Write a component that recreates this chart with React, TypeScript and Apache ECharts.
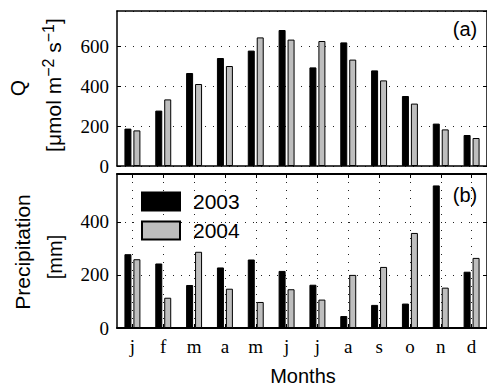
import React, { useEffect, useRef } from "react";
import * as echarts from "echarts";

const months = ["j", "f", "m", "a", "m", "j", "j", "a", "s", "o", "n", "d"];
const q2003 = [187, 277, 465, 540, 577, 680, 493, 618, 478, 350, 212, 155];
const q2004 = [178, 333, 410, 500, 643, 632, 625, 532, 428, 312, 183, 140];
const p2003 = [278, 243, 162, 228, 258, 215, 163, 45, 87, 92, 537, 212];
const p2004 = [259, 114, 287, 148, 98, 146, 107, 200, 230, 358, 152, 264];
const seriesNames = ["2003", "2004"];

const SANS = "Liberation Sans";
const SERIF = "Liberation Serif";
const GRAY = "#bebebe";

export default function App() {
  const ref = useRef<HTMLDivElement>(null);
  useEffect(() => {
    if (!ref.current) return;
    const chart = echarts.init(ref.current, undefined, { renderer: "svg" });
    const frame = { show: true, lineStyle: { color: "#000", width: 1.5 } };
    const dotted = { show: true, lineStyle: { color: "#222", width: 1, type: [1, 7] as any } };
    const catAxis = (grid: number, pos: string, extra: any = {}) => ({
      type: "category",
      gridIndex: grid,
      position: pos,
      data: months,
      boundaryGap: true,
      axisLine: { ...frame, onZero: false },
      axisTick: { show: false },
      axisLabel: { show: false },
      splitLine: { show: false },
      ...extra,
    });
    const valAxis = (grid: number, pos: string, max: number, labels: boolean, split: boolean) => ({
      type: "value",
      gridIndex: grid,
      position: pos,
      min: 0,
      max,
      interval: 200,
      axisLine: frame,
      axisTick: { show: true, inside: true, length: 4, lineStyle: { color: "#000", width: 1 } },
      axisLabel: labels
        ? { show: true, showMaxLabel: false, margin: 8, fontFamily: SERIF, fontSize: 19, color: "#000" }
        : { show: false },
      splitLine: split ? dotted : { show: false },
    });
    const bar = (name: string, data: number[], xi: number, yi: number, color: string) => ({
      type: "bar",
      name,
      data,
      xAxisIndex: xi,
      yAxisIndex: yi,
      barWidth: 7,
      barGap: "28%",
      itemStyle: { color, borderColor: "#000", borderWidth: 1 },
    });
    chart.setOption({
      animation: false,
      backgroundColor: "#fff",
      grid: [
        { left: 117, top: 11, width: 372, height: 155 },
        { left: 117, top: 174, width: 372, height: 154 },
      ],
      xAxis: [
        catAxis(0, "bottom"),
        catAxis(0, "top"),
        catAxis(1, "bottom", {
          axisLine: { show: true, onZero: false, lineStyle: { color: "#000", width: 2 } },
          axisLabel: { show: true, margin: 9, fontFamily: SERIF, fontSize: 19, color: "#000" },
          splitLine: { ...dotted, alignWithLabel: true },
          axisTick: { show: true, inside: true, alignWithLabel: true, length: 4, lineStyle: { color: "#000" } },
        }),
        catAxis(1, "top", {
          axisLine: { show: true, onZero: false, lineStyle: { color: "#000", width: 2 } },
          axisTick: { show: true, inside: true, alignWithLabel: true, length: 4, lineStyle: { color: "#000" } },
        }),
      ],
      yAxis: [
        valAxis(0, "left", 775, true, true),
        valAxis(0, "right", 775, false, false),
        valAxis(1, "left", 580, true, true),
        valAxis(1, "right", 580, false, false),
      ],
      legend: {
        data: seriesNames,
        orient: "vertical",
        left: 141,
        top: 191,
        itemWidth: 38,
        itemHeight: 18,
        itemGap: 8,
        icon: "rect",
        padding: 0,
        textStyle: { fontFamily: SANS, fontSize: 21, color: "#000", padding: [0, 0, 0, 8] },
      },
      series: [
        bar(seriesNames[0], q2003, 0, 0, "#000"),
        bar(seriesNames[1], q2004, 0, 0, GRAY),
        bar(seriesNames[0], p2003, 2, 2, "#000"),
        bar(seriesNames[1], p2004, 2, 2, GRAY),
      ],
      graphic: [
        { type: "text", x: 17, y: 88, rotation: Math.PI / 2, style: { text: "Q", font: `21px "${SANS}"`, fill: "#000", align: "center", verticalAlign: "middle" } },
        {
          type: "text", x: 52, y: 85, rotation: Math.PI / 2,
          style: {
            text: "{a|[μmol m}{s|−2}{a| s}{s|−1}{a|]}",
            fill: "#000", align: "center", verticalAlign: "middle",
            rich: {
              a: { fontFamily: SANS, fontSize: 21, fill: "#000", lineHeight: 24, verticalAlign: "bottom" },
              s: { fontFamily: SANS, fontSize: 16, fill: "#000", lineHeight: 24, verticalAlign: "top", padding: [0, 0, 8, 0] },
            },
          },
        },
        { type: "text", x: 22, y: 252, rotation: Math.PI / 2, style: { text: "Precipitation", font: `21px "${SANS}"`, fill: "#000", align: "center", verticalAlign: "middle" } },
        { type: "text", x: 55, y: 257, rotation: Math.PI / 2, style: { text: "[mm]", font: `20px "${SANS}"`, fill: "#000", align: "center", verticalAlign: "middle" } },
        { type: "text", x: 303, y: 376, style: { text: "Months", font: `20px "${SANS}"`, fill: "#000", align: "center", verticalAlign: "middle" } },
        { type: "text", x: 465, y: 29, style: { text: "(a)", font: `20px "${SANS}"`, fill: "#000", align: "center", verticalAlign: "middle" } },
        { type: "text", x: 465, y: 195, style: { text: "(b)", font: `20px "${SANS}"`, fill: "#000", align: "center", verticalAlign: "middle" } },
      ],
    });
    return () => chart.dispose();
  }, []);
  return (
    <div
      ref={ref}
      style={{ position: "fixed", left: 0, top: 0, width: 487, height: 386, background: "#fff" }}
    />
  );
}
